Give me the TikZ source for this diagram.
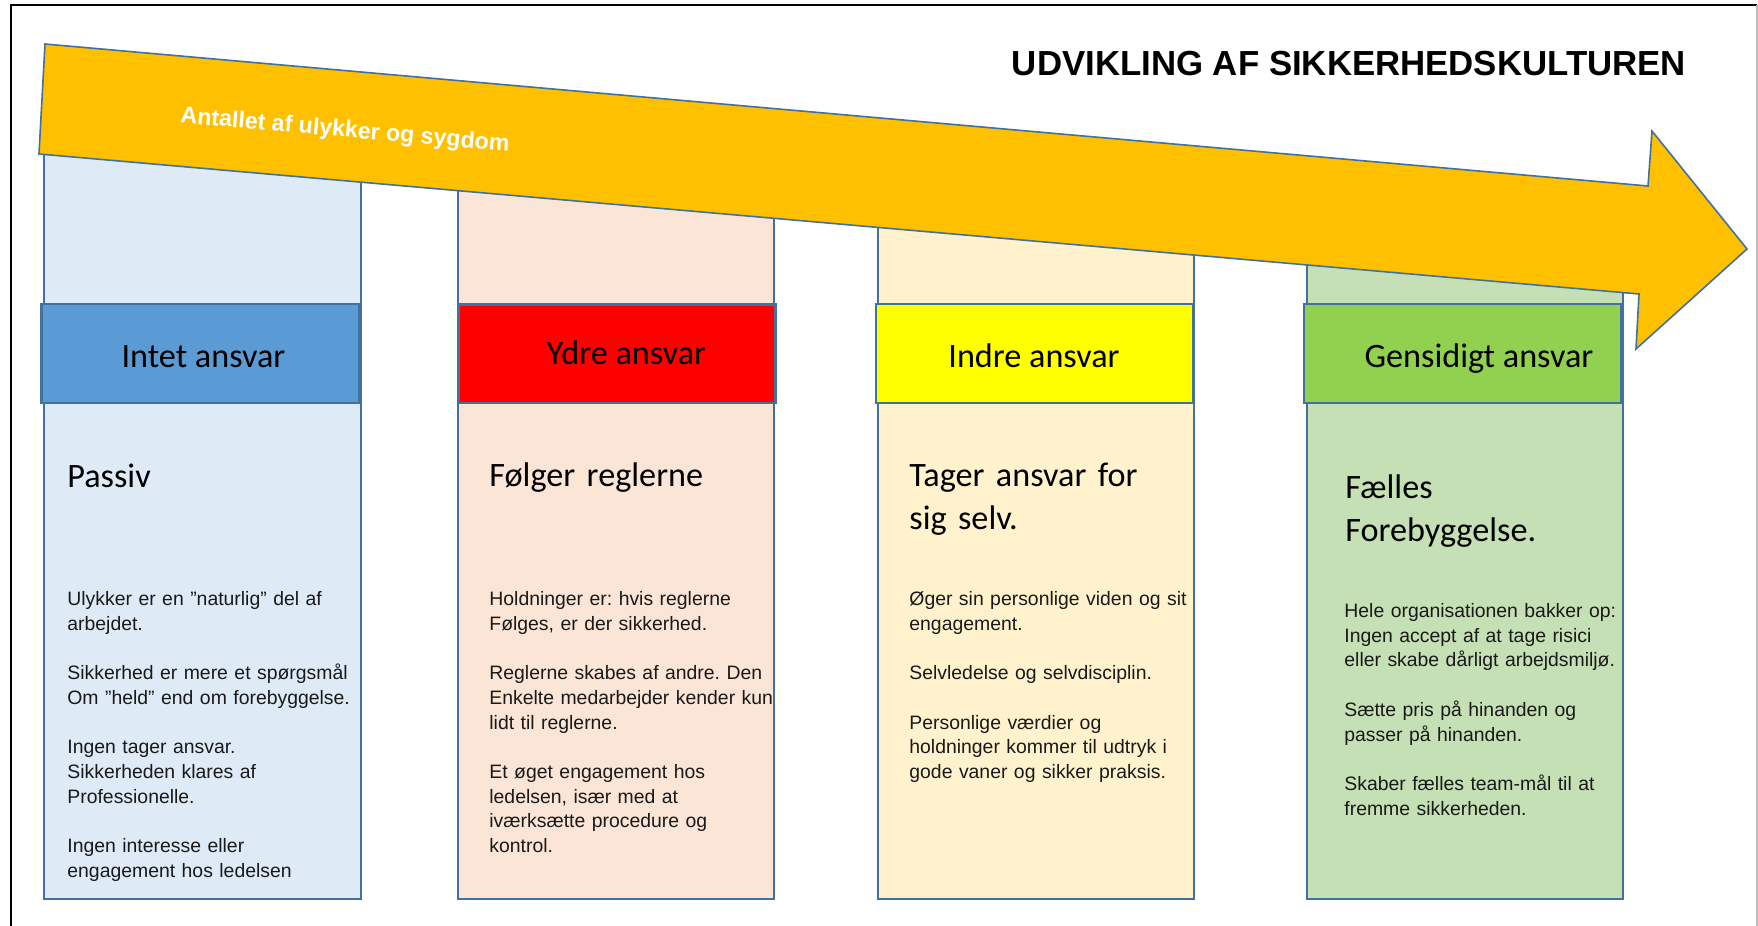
\documentclass[tikz,border=0pt]{standalone}
\usepackage{fontspec}
\setmainfont{Liberation Sans}
\newfontfamily\calfont{Carlito}
\frenchspacing
\definecolor{edge}{HTML}{41719C}
\definecolor{arrowfill}{HTML}{FFC000}
\definecolor{hblue}{HTML}{5B9BD5}
\definecolor{lblue}{HTML}{DEEBF7}
\definecolor{hred}{HTML}{FF0000}
\definecolor{lred}{HTML}{FBE5D6}
\definecolor{hyellow}{HTML}{FFFF00}
\definecolor{lyellow}{HTML}{FFF2CC}
\definecolor{hgreen}{HTML}{92D050}
\definecolor{lgreen}{HTML}{C5E0B4}
\definecolor{framegray}{HTML}{BBBBBB}
\newcommand\pgap{\\[12.35pt]}
\tikzset{
  colbody/.style={draw=edge, line width=1pt},
  colhead/.style={draw=edge, line width=1.2pt},
  headtext/.style={font=\calfont\fontsize{17.1pt}{21.7pt}\selectfont, anchor=base, inner sep=0pt},
  subtext/.style={font=\calfont\fontsize{17.1pt}{21.7pt}\selectfont, anchor=base west, inner sep=0pt, align=left, text width=200pt},
  bodytext/.style={font=\fontsize{9.7pt}{12.35pt}\selectfont, anchor=base west, inner sep=0pt, align=left, text width=200pt, text=black!90},
}
\begin{document}
\begin{tikzpicture}[x=0.5pt,y=-0.5pt]
\useasboundingbox (0,0) rectangle (1758,926);
\fill[white] (0,0) rectangle (1758,926);
% frame
\draw[black, line width=1pt] (10.5,930) -- (10.5,5) -- (1757,5);
\draw[framegray, line width=0.8pt] (1757,5) -- (1757,930);

% column bodies
\draw[colbody, fill=lblue]   (43.7,110) rectangle (360.5,899);
\draw[colbody, fill=lred]    (457.5,150) rectangle (774,899);
\draw[colbody, fill=lyellow] (878,190) rectangle (1194,899);
\draw[colbody, fill=lgreen]  (1307,230) rectangle (1623,899);

% headers
\draw[colhead, fill=hblue]   (41.5,304) rectangle (359,403);
\draw[colhead, fill=hred]    (459,304.5) rectangle (775.5,403);
\draw[colhead, fill=hyellow] (876,304) rectangle (1193,403);
\draw[colhead, fill=hgreen]  (1304,304) rectangle (1621.5,403);

% big arrow
\draw[draw=edge, line width=0.8pt, fill=arrowfill, line join=miter]
  (45,44) -- (1648,186) -- (1652,131) -- (1747,249) -- (1636,349) -- (1639,294) -- (39,154) -- cycle;
\node[rotate=-5, text=white, font=\bfseries\fontsize{11.6pt}{14pt}\selectfont, inner sep=0pt] (arrowtext) at (345,131) {Antallet af ulykker og sygdom};

% title
\node[anchor=base, font=\bfseries\fontsize{17.4pt}{20pt}\selectfont, inner sep=0pt] (title) at (1349,75.5) {UDVIKLING AF SIKKERHEDSKULTUREN};

% header texts
\node[headtext] (h1) at (203.5,367.8) {Intet ansvar};
\node[headtext] (h2) at (626.5,364.5) {Ydre ansvar};
\node[headtext] (h3) at (1034,367.8) {Indre ansvar};
\node[headtext] (h4) at (1479,367.8) {Gensidigt ansvar};

% subtitles
\node[subtext] (s1) at (67,487.5) {Passiv};
\node[subtext] (s2) at (489,486.5) {Følger reglerne};
\node[subtext] (s3) at (909,486.5) {Tager ansvar for\\sig selv.};
\node[subtext] (s4) at (1345,498.4) {Fælles\\Forebyggelse.};

% body texts
\node[bodytext] (b1) at (67,605.5) {Ulykker er en ”naturlig” del af\\arbejdet.\pgap
Sikkerhed er mere et spørgsmål\\Om ”held” end om forebyggelse.\pgap
Ingen tager ansvar.\\Sikkerheden klares af\\Professionelle.\pgap
Ingen interesse eller\\engagement hos ledelsen};
\node[bodytext] (b2) at (489,605.5) {Holdninger er: hvis reglerne\\Følges, er der sikkerhed.\pgap
Reglerne skabes af andre. Den\\Enkelte medarbejder kender kun\\lidt til reglerne.\pgap
Et øget engagement hos\\ledelsen, især med at\\iværksætte procedure og\\kontrol.};
\node[bodytext] (b3) at (909,605.5) {Øger sin personlige viden og sit\\engagement.\pgap
Selvledelse og selvdisciplin.\pgap
Personlige værdier og\\holdninger kommer til udtryk i\\gode vaner og sikker praksis.};
\node[bodytext] (b4) at (1344,617.5) {Hele organisationen bakker op:\\Ingen accept af at tage risici\\eller skabe dårligt arbejdsmiljø.\pgap
Sætte pris på hinanden og\\passer på hinanden.\pgap
Skaber fælles team-mål til at\\fremme sikkerheden.};
\end{tikzpicture}
\end{document}
